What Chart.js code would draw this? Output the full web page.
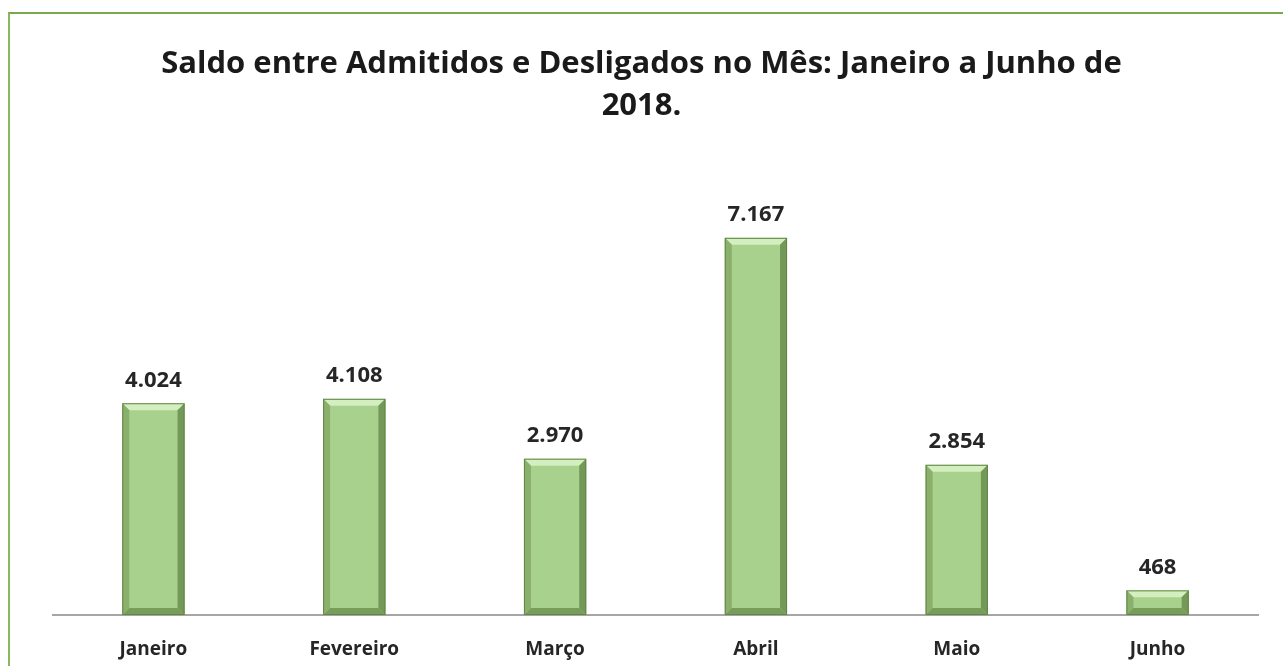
<!DOCTYPE html>
<html>
<head>
<meta charset="utf-8">
<script src="https://cdn.jsdelivr.net/npm/chart.js@4.4.0/dist/chart.umd.min.js"></script>
<style>
  html, body { margin: 0; padding: 0; background: #ffffff; overflow: hidden; }
  #wrap { position: relative; width: 1283px; height: 666px; }
  #frame { position: absolute; left: 8px; top: 12px; width: 1300px; height: 700px;
           border-top: 2px solid #7aa84f; border-left: 2px solid #8ab862; box-sizing: border-box; }
  canvas { position: absolute; left: 0; top: 0; }
</style>
</head>
<body>
<div id="wrap">
  <div id="frame"></div>
  <canvas id="c" width="1283" height="666"></canvas>
</div>
<script>
const categories = ["Janeiro", "Fevereiro", "Março", "Abril", "Maio", "Junho"];
const saldo = [4024, 4108, 2970, 7167, 2854, 468];
const titleLines = ["Saldo entre Admitidos e Desligados no Mês: Janeiro a Junho de", "2018."];

function fmt(v) {
  return v.toLocaleString('de-DE');
}

const bevelPlugin = {
  id: 'bevel',
  afterDatasetsDraw(chart) {
    const ctx = chart.ctx;
    const meta = chart.getDatasetMeta(0);
    ctx.save();
    meta.data.forEach((el) => {
      const p = el.getProps(['x', 'y', 'base', 'width'], true);
      const l = p.x - p.width / 2, r = p.x + p.width / 2, t = p.y, b = p.base;
      const bv = Math.min(7, (b - t) / 2.5);
      // top bevel (light)
      ctx.fillStyle = '#d3eebf';
      ctx.beginPath();
      ctx.moveTo(l, t); ctx.lineTo(r, t); ctx.lineTo(r - bv, t + bv); ctx.lineTo(l + bv, t + bv); ctx.closePath(); ctx.fill();
      // left bevel
      ctx.fillStyle = '#8bb06c';
      ctx.beginPath();
      ctx.moveTo(l, t); ctx.lineTo(l + bv, t + bv); ctx.lineTo(l + bv, b - bv); ctx.lineTo(l, b); ctx.closePath(); ctx.fill();
      // right bevel
      ctx.fillStyle = '#739857';
      ctx.beginPath();
      ctx.moveTo(r, t); ctx.lineTo(r - bv, t + bv); ctx.lineTo(r - bv, b - bv); ctx.lineTo(r, b); ctx.closePath(); ctx.fill();
      // bottom bevel
      ctx.fillStyle = '#789d5a';
      ctx.beginPath();
      ctx.moveTo(l, b); ctx.lineTo(l + bv, b - bv); ctx.lineTo(r - bv, b - bv); ctx.lineTo(r, b); ctx.closePath(); ctx.fill();
      // outline
      ctx.strokeStyle = '#638548';
      ctx.lineWidth = 1;
      ctx.strokeRect(l + 0.5, t + 0.5, p.width - 1, b - t - 1);
    });
    ctx.restore();
  }
};

const labelPlugin = {
  id: 'valueLabels',
  afterDatasetsDraw(chart) {
    const ctx = chart.ctx;
    const meta = chart.getDatasetMeta(0);
    ctx.save();
    ctx.font = 'bold 22px "Open Sans"';
    ctx.fillStyle = '#262626';
    ctx.textAlign = 'center';
    ctx.textBaseline = 'middle';
    meta.data.forEach((el, i) => {
      ctx.fillText(fmt(saldo[i]), el.x, el.y - 23);
    });
    ctx.restore();
  }
};

new Chart(document.getElementById('c'), {
  type: 'bar',
  data: {
    labels: categories,
    datasets: [{
      data: saldo,
      backgroundColor: '#a9d18e',
      borderWidth: 0,
      categoryPercentage: 1.0,
      barPercentage: 0.31
    }]
  },
  options: {
    responsive: false,
    animation: false,
    devicePixelRatio: 1,
    layout: { padding: { left: 0, right: 0, top: 0, bottom: 0 } },
    plugins: {
      legend: { display: false },
      tooltip: { enabled: false },
      title: {
        display: true,
        text: titleLines,
        color: '#1a1a1a',
        font: { family: '"Open Sans"', size: 31, weight: 'bold', lineHeight: 1.355 },
        padding: { top: 43, bottom: 67 }
      }
    },
    scales: {
      x: {
        grid: { display: false },
        border: { display: true, color: '#a6a6a6', width: 2 },
        ticks: {
          color: '#262626',
          font: { family: '"Open Sans"', size: 19, weight: 'bold' },
          padding: 15
        },
        afterFit(scale) { scale.height = 51; }
      },
      y: {
        position: 'left',
        min: 0, max: 8000,
        grid: { display: false },
        border: { display: false },
        ticks: { display: false },
        afterFit(scale) { scale.width = 53; }
      },
      y2: {
        position: 'right',
        min: 0, max: 8000,
        grid: { display: false },
        border: { display: false },
        ticks: { display: false },
        afterFit(scale) { scale.width = 25; }
      }
    }
  },
  plugins: [bevelPlugin, labelPlugin]
});
</script>
</body>
</html>
